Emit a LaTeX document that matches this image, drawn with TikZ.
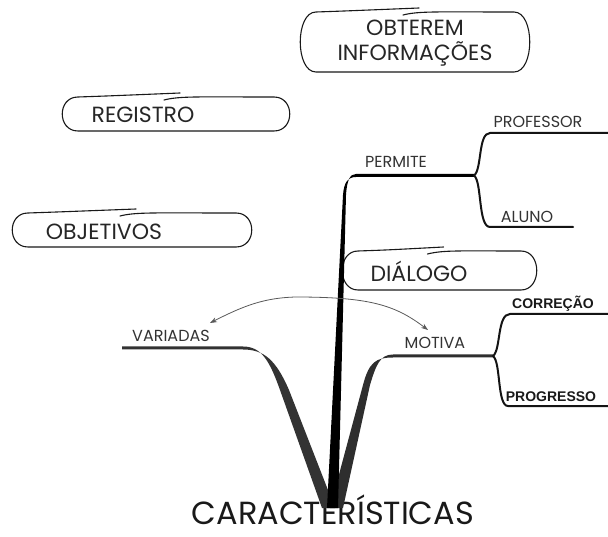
\documentclass[tikz,border=0pt]{standalone}
\usepackage{fontspec}
\setmainfont{Poppins}
\newfontfamily\boldsans{Liberation Sans}
\usetikzlibrary{arrows.meta}
\tikzset{
  lbl/.style={text=black!80, inner sep=0pt, font=\fontsize{16}{16}\selectfont},
  boxtxt/.style={text=black!85, inner sep=0pt, font=\fontsize{22}{25}\selectfont, align=center},
  boxline/.style={draw=black!90, line width=1.1pt, line join=round, line cap=round},
  fork/.style={draw=black!92, line width=2pt, line cap=round},
  boldlbl/.style={text=black!90, inner sep=0pt, font=\boldsans\bfseries\fontsize{14}{14}\selectfont},
  conn/.style={draw=black!65, line width=0.8pt, {Stealth[length=7pt,width=5pt]}-{Stealth[length=7pt,width=5pt]}},
  rootlbl/.style={text=black!90, inner sep=0pt, font=\fontsize{32}{32}\selectfont},
}
\newcommand\skbox[4]{%
  \pgfmathsetmacro\xa{#1}\pgfmathsetmacro\ya{#2}%
  \pgfmathsetmacro\xb{#3}\pgfmathsetmacro\yb{#4}%
  \pgfmathsetmacro\xm{(#1+#3)/2}%
  \draw[boxline] (\xm-12,\ya+3) .. controls (\xm+4,\ya-1) and (\xm+20,\ya) .. (\xb-16,\ya)
    .. controls (\xb+5,\ya) and (\xb+5,\yb) .. (\xb-16,\yb) -- (\xa+16,\yb)
    .. controls (\xa-5,\yb) and (\xa-5,\ya) .. (\xa+16,\ya)
    .. controls (\xa+45,\ya-1) .. (\xm+4,\ya-4);
}
\begin{document}
\begin{tikzpicture}[x=1pt,y=-1pt]
\path[use as bounding box] (0,0) rectangle (608,537);

% callout boxes
\skbox{300}{12}{530}{72}
\node[boxtxt] (obt) at (415,43) {OBTEREM\\INFORMAÇÕES};
\skbox{62}{97}{290}{131}
\node[boxtxt] (reg) at (143,115) {REGISTRO};
\skbox{12}{213}{252}{247}
\node[boxtxt] (obj) at (104,232) {OBJETIVOS};
\skbox{342}{251}{537}{290}
\node[boxtxt] (dia) at (419,271) {DIÁLOGO};

% root
\node[rootlbl, anchor=base] (root) at (333,524) {CARACTERÍSTICAS};

% branch coordinates
\coordinate (perE) at (474,175.5);
\coordinate (motE) at (493,356);

% VARIADAS branch (tapered)
\fill[black!80] (122,346.5) -- (243,346.5) .. controls (262,346.5) and (270,362) .. (280,390)
  -- (322,508) -- (335,508) -- (289,390) .. controls (276,360) and (264,349.5) .. (243,349.5)
  -- (122,349.5) -- cycle;
% MOTIVA branch
\fill[black!82] (motE) ++(0,-1.5) -- (393,354.5) .. controls (380,354.5) and (376,365) .. (370,385)
  -- (343,508) -- (330,508) -- (363,385) .. controls (369,362) and (376,357.5) .. (393,357.5)
  -- (493,357.5) -- cycle;
% PERMITE branch (trunk)
\fill[black] (perE) ++(0,-1.5) -- (356,174) .. controls (350,174) and (347,180) .. (346,195)
  -- (338,508) -- (327,508) -- (343,195) .. controls (344,182) and (348,177) .. (356,177)
  -- (474,177) -- cycle;

% labels
\node[lbl] (var) at (171,336) {VARIADAS};
\node[lbl] (mot) at (435,343) {MOTIVA};
\node[lbl] (per) at (396,162) {PERMITE};
\node[lbl] (pro) at (538,122) {PROFESSOR};
\node[lbl] (alu) at (527,217) {ALUNO};
\node[boldlbl] (cor) at (553,304) {CORREÇÃO};
\node[boldlbl] (prg) at (551,397) {PROGRESSO};

% forks
\draw[fork] (perE) .. controls (482,170) and (478,133) .. (490,133) -- (608,133);
\draw[fork] (perE) .. controls (482,181) and (478,227) .. (490,227) -- (573,227);
\draw[fork] (motE) .. controls (501,350) and (497,314) .. (510,314) -- (608,314);
\draw[fork] (motE) .. controls (501,362) and (497,406) .. (508,406) -- (608,406);

% relationship arrow
\coordinate (arrL) at (210,323);
\coordinate (arrR) at (428,330);
\draw[conn] (arrL) .. controls (245,305) and (265,298) .. (295,297)
  .. controls (370,297) and (395,305) .. (arrR);
\end{tikzpicture}
\end{document}
